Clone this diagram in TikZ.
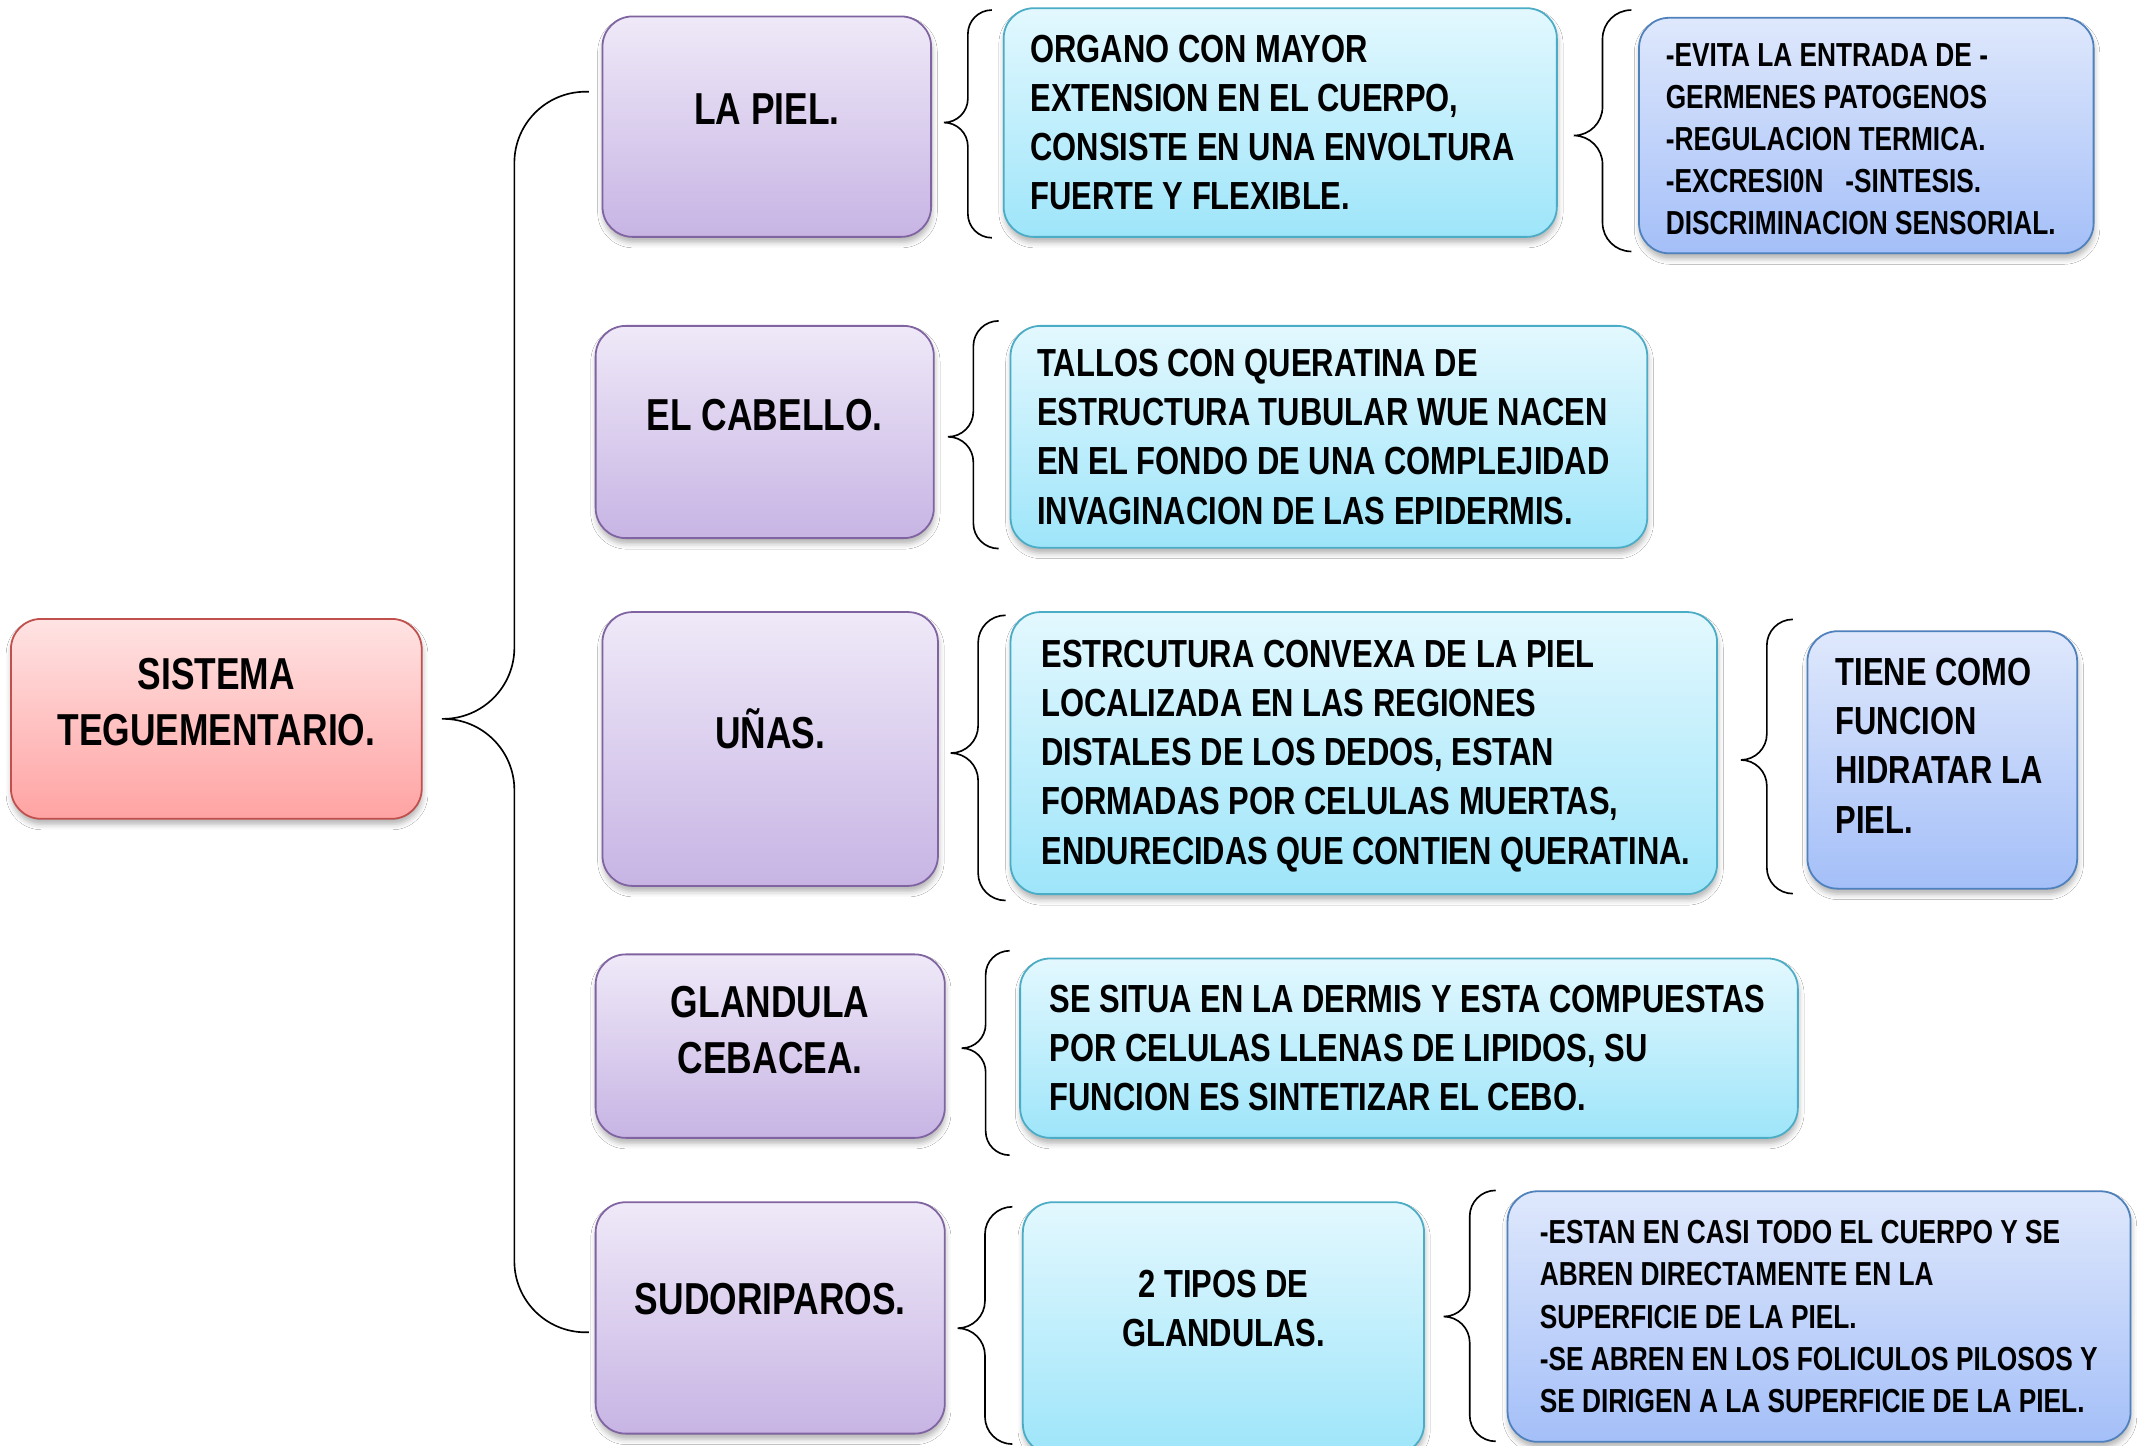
\documentclass[tikz,border=0pt]{standalone}
\usepackage{fontspec}
\setmainfont{Liberation Sans}[FakeStretch=0.79]
\usepackage{tikz}
\usetikzlibrary{shadows.blur}

\definecolor{lilaT}{HTML}{EFE9F8}
\definecolor{lilaB}{HTML}{C7B4E4}
\definecolor{lilaD}{HTML}{8064A2}
\definecolor{celT}{HTML}{E3F8FE}
\definecolor{celB}{HTML}{9EE5FA}
\definecolor{celD}{HTML}{4BACC6}
\definecolor{azuT}{HTML}{DFE8FC}
\definecolor{azuB}{HTML}{A4BFF8}
\definecolor{azuD}{HTML}{4F81BD}
\definecolor{rojT}{HTML}{FFE3E3}
\definecolor{rojB}{HTML}{FFA3A3}
\definecolor{rojD}{HTML}{C0504D}

\tikzset{
  caja/.style={rounded corners=22pt, line width=1.3pt, inner sep=0pt,
    blur shadow={shadow xshift=0.5pt, shadow yshift=-4pt, shadow blur radius=4pt, shadow opacity=30}},
  roja/.style={caja, draw=rojD, top color=rojT, bottom color=rojB},
  lila/.style={caja, draw=lilaD, top color=lilaT, bottom color=lilaB},
  celeste/.style={caja, draw=celD, top color=celT, bottom color=celB},
  azul/.style={caja, draw=azuD, top color=azuT, bottom color=azuB},
  tnivel1/.style={font=\bfseries\fontsize{32.7}{41}\selectfont, align=center, inner sep=0pt},
  tnivel2/.style={font=\bfseries\fontsize{28.6}{36}\selectfont, align=left, inner sep=0pt},
  tnivel3/.style={font=\bfseries\fontsize{24.3}{30.7}\selectfont, align=left, inner sep=0pt},
  brc/.style={line width=1.2pt, line join=round}
}

% llave a la izquierda de una caja: caja, separacion, medio ancho, ajuste arriba, ajuste abajo
\newcommand{\llave}[5]{%
  \draw[brc, rounded corners=#3pt]
    ([xshift=-#2pt, yshift=#4pt]#1.north west) -- ++(-#3,0) |- ([xshift={-#2-2*#3}]#1.west)
    ([xshift={-#2-2*#3}]#1.west) -| ([xshift={-#2-#3}, yshift=#5pt]#1.south west) -- ++(#3,0);}

\begin{document}
\begin{tikzpicture}[x=1pt, y=-1pt]
    \fill[white] (0,0) rectangle (1568,1056);
    \useasboundingbox (0,0) rectangle (1568,1056);

    % tema
    \node[roja, minimum width=300, minimum height=146] (sis) at (158,525) {};
    \node[tnivel1] (sis-t) at ([yshift=12.5pt]sis.center) {SISTEMA\\TEGUEMENTARIO.};

    % partes
    \node[lila, minimum width=240, minimum height=161] (piel) at (560,92.5) {};
    \node[tnivel1] (piel-t) at ([yshift=12.5pt]piel.center) {LA PIEL.};
    \node[lila, minimum width=247, minimum height=155] (cab) at (558.5,315.5) {};
    \node[tnivel1] (cab-t) at ([yshift=12.5pt]cab.center) {EL CABELLO.};
    \node[lila, minimum width=245, minimum height=200] (una) at (562.5,547) {};
    \node[tnivel1] (una-t) at ([yshift=15pt]una.center) {UÑAS.};
    \node[lila, minimum width=255, minimum height=134] (gla) at (562.5,764) {};
    \node[tnivel1] (gla-t) at ([yshift=12pt]gla.center) {GLANDULA\\CEBACEA.};
    \node[lila, minimum width=255, minimum height=169] (sud) at (562.5,962.5) {};
    \node[tnivel1] (sud-t) at ([yshift=13.5pt]sud.center) {SUDORIPAROS.};

    % descripciones
    \node[celeste, minimum width=404, minimum height=167] (b1) at (935,89.5) {};
    \node[tnivel2, anchor=west] (b1-t) at ([xshift=20pt]b1.west)
        {ORGANO CON MAYOR\\EXTENSION EN EL CUERPO,\\CONSISTE EN UNA ENVOLTURA\\FUERTE Y FLEXIBLE.};
    \node[celeste, minimum width=465, minimum height=162] (b2) at (970.5,319) {};
    \node[tnivel2, anchor=west] (b2-t) at ([xshift=20pt]b2.west)
        {TALLOS CON QUERATINA DE\\ESTRUCTURA TUBULAR WUE NACEN\\EN EL FONDO DE UNA COMPLEJIDAD\\INVAGINACION DE LAS EPIDERMIS.};
    \node[celeste, minimum width=516, minimum height=206] (b3) at (996,550) {};
    \node[tnivel2, anchor=west] (b3-t) at ([xshift=23pt, yshift=-2pt]b3.west)
        {ESTRCUTURA CONVEXA DE LA PIEL\\LOCALIZADA EN LAS REGIONES\\DISTALES DE LOS DEDOS, ESTAN\\FORMADAS POR CELULAS MUERTAS,\\ENDURECIDAS QUE CONTIEN QUERATINA.};
    \node[celeste, minimum width=568, minimum height=131] (b4) at (1029,765.5) {};
    \node[tnivel2, anchor=west] (b4-t) at ([xshift=22pt]b4.west)
        {SE SITUA EN LA DERMIS Y ESTA COMPUESTAS\\POR CELULAS LLENAS DE LIPIDOS, SU\\FUNCION ES SINTETIZAR EL CEBO.};
    \node[celeste, minimum width=293, minimum height=184] (b5) at (893.5,970) {};
    \node[tnivel2, align=center] (b5-t) at ([yshift=14.5pt]b5.center) {2 TIPOS DE\\GLANDULAS.};

    % funciones
    \node[azul, minimum width=332, minimum height=172] (p3) at (1363,99) {};
    \node[tnivel3, anchor=west] (p3-t) at ([xshift=20pt, yshift=-2.5pt]p3.west)
        {-EVITA LA ENTRADA DE -\\GERMENES PATOGENOS\\-REGULACION TERMICA.\\-EXCRESI0N\ \ \ -SINTESIS.\\DISCRIMINACION SENSORIAL.};
    \node[azul, minimum width=197, minimum height=188] (u3) at (1418.5,555) {};
    \node[tnivel2, anchor=west] (u3-t) at ([xshift=21pt, yshift=10.5pt]u3.west)
        {TIENE COMO\\FUNCION\\HIDRATAR LA\\PIEL.};
    \node[azul, minimum width=455, minimum height=183] (s3) at (1328.5,961.5) {};
    \node[tnivel3, anchor=west] (s3-t) at ([xshift=24pt]s3.west)
        {-ESTAN EN CASI TODO EL CUERPO Y SE\\ABREN DIRECTAMENTE EN LA\\SUPERFICIE DE LA PIEL.\\-SE ABREN EN LOS FOLICULOS PILOSOS Y\\SE DIRIGEN A LA SUPERFICIE DE LA PIEL.};

    % llave grande
    \coordinate (bt) at (430,67);
    \coordinate (bb) at (430,973);
    \draw[brc, rounded corners=52pt] (bt) -| ([xshift=67pt]sis.east) -- ([xshift=14pt]sis.east)
        ([xshift=14pt]sis.east) -- ([xshift=67pt]sis.east) |- (bb);

    % llaves pequenas
    \llave{b1}{8}{17.5}{-2}{0}
    \llave{b2}{8}{18.5}{3}{0}
    \llave{b3}{3}{20}{-3}{-4}
    \llave{b4}{7}{17.5}{5}{-12}
    \llave{b5}{7}{20}{-4}{8}
    \llave{p3}{5}{21}{5}{2}
    \llave{u3}{10}{19}{8}{-3}
    \llave{s3}{8}{19}{0}{1}
\end{tikzpicture}
\end{document}
